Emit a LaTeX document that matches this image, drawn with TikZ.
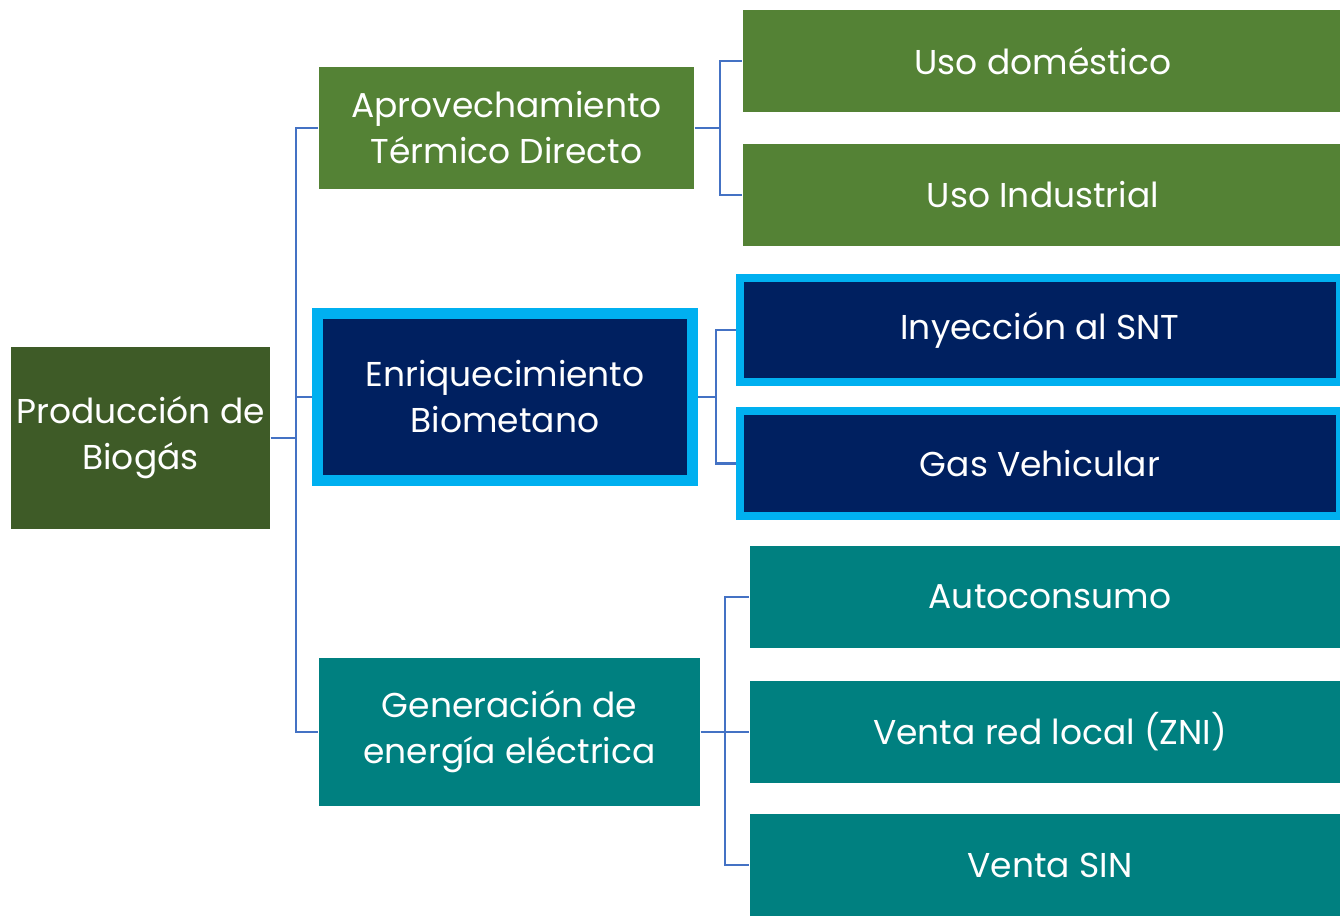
\documentclass[tikz,border=0pt]{standalone}
\usepackage{fontspec}
\setmainfont{Poppins}
\usetikzlibrary{positioning}
\definecolor{biogreen}{HTML}{3E5B27}
\definecolor{termgreen}{HTML}{548235}
\definecolor{metnavy}{HTML}{002060}
\definecolor{metcyan}{HTML}{00B0F0}
\definecolor{eleteal}{HTML}{008080}
\definecolor{linkblue}{HTML}{4472C4}
\newcommand\boxfont{\fontsize{9.8pt}{13.1pt}\selectfont}
\tikzset{
  box/.style={rectangle, inner sep=0pt, text=white, align=center, font=\boxfont},
  leaf/.style={box, minimum width=6cm, minimum height=1.02cm},
  rim/.style={draw=metcyan, fill=metnavy},
  conn/.style={draw=linkblue, line width=0.7pt}
}
\begin{document}
\begin{tikzpicture}[x=0.01cm, y=-0.01cm]
\useasboundingbox (0,0) rectangle (1340,915);
\node[box, fill=biogreen, minimum width=2.59cm, minimum height=1.81cm] (root) at (140.5,438) {Producción de\\Biogás};
\node[box, fill=termgreen, minimum width=3.75cm, minimum height=1.22cm] (termico) at (506.5,128) {Aprovechamiento\\Térmico Directo};
\node[box, rim, line width=0.11cm, minimum width=3.75cm, minimum height=1.67cm] (biometano) at (505,397) {Enriquecimiento\\Biometano};
\node[box, fill=eleteal, minimum width=3.81cm, minimum height=1.48cm] (electrica) at (509.5,732) {Generación de\\energía eléctrica};
\node[leaf, fill=termgreen] (domestico) at (1043,61) {Uso doméstico};
\node[leaf, fill=termgreen] (industrial) at (1043,195) {Uso Industrial};
\node[leaf, rim, line width=0.08cm, minimum height=1.04cm] (snt) at (1040,330) {Inyección al SNT};
\node[leaf, rim, line width=0.08cm, minimum height=1.05cm] (vehicular) at (1040,463.5) {Gas Vehicular};
\node[leaf, fill=eleteal] (autoconsumo) at (1050,597) {Autoconsumo};
\node[leaf, fill=eleteal] (zni) at (1050,732) {Venta red local (ZNI)};
\node[leaf, fill=eleteal] (sin) at (1050,865) {Venta SIN};
\draw[conn] (root.east) -- ++(25,0) |- (termico.west);
\draw[conn] (root.east) -- ++(25,0) |- (biometano.west);
\draw[conn] (root.east) -- ++(25,0) |- (electrica.west);
\draw[conn] (termico.east) -- ++(25,0) |- (domestico.west);
\draw[conn] (termico.east) -- ++(25,0) |- (industrial.west);
\draw[conn] (biometano.east) -- ++(18,0) |- (snt.west);
\draw[conn] (biometano.east) -- ++(18,0) |- (vehicular.west);
\draw[conn] (electrica.east) -- ++(24,0) |- (autoconsumo.west);
\draw[conn] (electrica.east) -- ++(24,0) |- (zni.west);
\draw[conn] (electrica.east) -- ++(24,0) |- (sin.west);
\end{tikzpicture}
\end{document}
